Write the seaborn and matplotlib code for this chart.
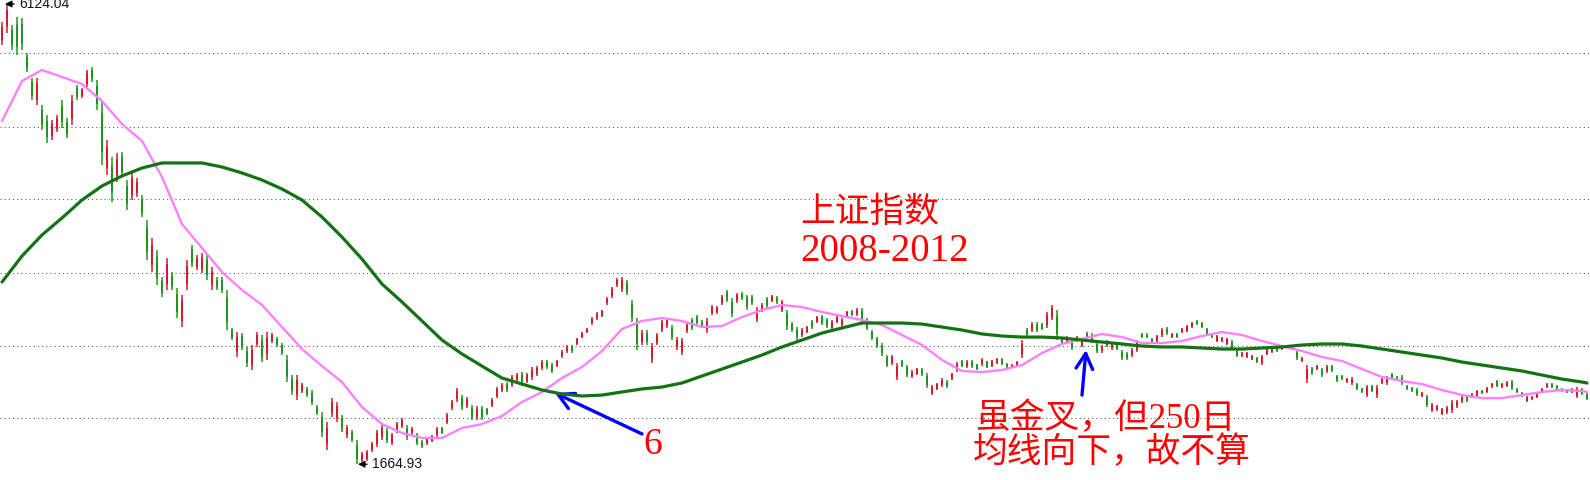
import numpy as np
import pandas as pd
import matplotlib
matplotlib.use("Agg")
import matplotlib.pyplot as plt
import seaborn as sns

# ---------------- data ----------------
high = [
    5950, 6124, 5921, 5998, 5989, 5649, 5407, 5407, 5146, 5049,
    5000, 5049, 5194, 5020, 5242, 5339, 5310, 5485, 5514, 5388,
    5194, 4806, 4642, 4680, 4690, 4419, 4487, 4438, 4273, 4031,
    3857, 3740, 3479, 3663, 3527, 3372, 3304, 3644, 3789, 3692,
    3711, 3692, 3576, 3479, 3479, 3353, 2985, 2946, 2936, 2801,
    2820, 2946, 2917, 2946, 2936, 2897, 2839, 2723, 2529, 2529,
    2452, 2413, 2384, 2239, 2171, 2074, 2306, 2268, 2142, 2045,
    1996, 1899, 1783, 1802, 1880, 1996, 2045, 2016, 1967, 2074,
    2113, 2045, 2025, 1967, 1899, 1928, 1948, 2025, 2025, 2161,
    2287, 2403, 2335, 2316, 2239, 2229, 2229, 2210, 2306, 2413,
    2452, 2461, 2529, 2549, 2558, 2549, 2607, 2616, 2675, 2675,
    2646, 2675, 2771, 2820, 2820, 2888, 2946, 2985, 3091, 3140,
    3159, 3285, 3382, 3469, 3479, 3450, 3256, 3082, 2965, 2965,
    2839, 2936, 3062, 3082, 3014, 2897, 2888, 3033, 3082, 3111,
    3062, 3082, 3208, 3198, 3304, 3353, 3275, 3324, 3334, 3304,
    3304, 3188, 3227, 3285, 3304, 3295, 3256, 3159, 3043, 2994,
    2985, 3004, 3062, 3101, 3111, 3082, 3062, 3101, 3082, 3149,
    3159, 3179, 3179, 3082, 2965, 2897, 2839, 2723, 2723, 2646,
    2675, 2626, 2578, 2597, 2597, 2549, 2432, 2452, 2500, 2481,
    2549, 2655, 2675, 2675, 2675, 2636, 2694, 2665, 2675, 2694,
    2694, 2646, 2636, 2665, 2868, 2985, 3043, 3043, 3033, 3140,
    3208, 3159, 2897, 2907, 2868, 2907, 2868, 2946, 2936, 2849,
    2820, 2868, 2849, 2839, 2771, 2752, 2791, 2868, 2936, 2936,
    2888, 2917, 2985, 2994, 2936, 2936, 2985, 3014, 3043, 3062,
    3043, 2985, 2936, 2917, 2897, 2888, 2868, 2771, 2752, 2752,
    2723, 2704, 2723, 2791, 2791, 2801, 2810, 2820, 2820, 2771,
    2704, 2626, 2607, 2626, 2597, 2626, 2626, 2529, 2529, 2500,
    2510, 2452, 2403, 2432, 2432, 2432, 2500, 2520, 2549, 2520,
    2529, 2432, 2413, 2403, 2365, 2335, 2258, 2239, 2210, 2229,
    2287, 2287, 2335, 2335, 2355, 2384, 2384, 2413, 2452, 2481,
    2452, 2471, 2481, 2403, 2365, 2326, 2326, 2365, 2403, 2452,
    2452, 2432, 2403, 2384, 2403, 2413, 2403, 2355,
]
low = [
    5727, 5843, 5679, 5630, 5679, 5465, 5194, 5146, 4903, 4777,
    4806, 4884, 4923, 4826, 4952, 5194, 5213, 5320, 5368, 5097,
    4564, 4467, 4206, 4399, 4448, 4128, 4225, 4254, 4060, 3644,
    3527, 3401, 3285, 3353, 3353, 3082, 2994, 3353, 3576, 3547,
    3518, 3450, 3353, 3353, 3324, 2965, 2868, 2704, 2771, 2607,
    2578, 2801, 2655, 2675, 2839, 2801, 2723, 2461, 2335, 2287,
    2355, 2316, 2239, 2142, 1928, 1802, 2122, 2074, 1977, 1919,
    1880, 1665, 1686, 1696, 1783, 1832, 1899, 1870, 1851, 1967,
    2016, 1899, 1948, 1851, 1822, 1851, 1880, 1928, 1958, 2054,
    2190, 2268, 2190, 2210, 2093, 2093, 2093, 2142, 2219, 2306,
    2365, 2365, 2413, 2461, 2423, 2452, 2481, 2520, 2578, 2587,
    2549, 2607, 2694, 2742, 2742, 2820, 2888, 2936, 3014, 3062,
    3091, 3208, 3275, 3382, 3334, 3304, 3043, 2771, 2820, 2820,
    2646, 2820, 2946, 2985, 2868, 2771, 2723, 2936, 2965, 3014,
    2985, 2936, 3111, 3120, 3208, 3237, 3091, 3227, 3256, 3159,
    3208, 3043, 3140, 3179, 3237, 3217, 3140, 2965, 2946, 2868,
    2897, 2936, 2975, 3033, 3014, 2985, 2965, 3033, 2994, 3091,
    3101, 3101, 3043, 2965, 2868, 2791, 2713, 2607, 2626, 2481,
    2607, 2510, 2500, 2529, 2520, 2403, 2335, 2384, 2413, 2403,
    2481, 2558, 2607, 2597, 2597, 2578, 2616, 2597, 2607, 2636,
    2626, 2578, 2597, 2607, 2694, 2897, 2946, 2946, 2965, 2985,
    3062, 2868, 2830, 2839, 2771, 2849, 2801, 2888, 2839, 2742,
    2742, 2801, 2771, 2771, 2675, 2675, 2704, 2752, 2888, 2888,
    2839, 2849, 2897, 2917, 2888, 2888, 2936, 2946, 2985, 3014,
    2985, 2917, 2888, 2849, 2849, 2820, 2771, 2704, 2704, 2694,
    2675, 2646, 2626, 2723, 2742, 2752, 2771, 2791, 2771, 2675,
    2655, 2452, 2529, 2578, 2510, 2549, 2558, 2461, 2481, 2452,
    2432, 2384, 2355, 2316, 2365, 2306, 2442, 2432, 2481, 2481,
    2432, 2384, 2365, 2326, 2316, 2219, 2171, 2180, 2142, 2151,
    2161, 2210, 2258, 2268, 2306, 2316, 2345, 2355, 2403, 2413,
    2403, 2413, 2384, 2355, 2316, 2268, 2287, 2306, 2355, 2403,
    2403, 2384, 2365, 2355, 2355, 2306, 2335, 2287,
]
open_ = [
    5775, 5901, 5872, 5921, 5930, 5611, 5368, 5194, 5097, 4991,
    4845, 4913, 5136, 4981, 5010, 5310, 5233, 5349, 5485, 5330,
    5068, 4535, 4554, 4458, 4642, 4361, 4273, 4293, 4235, 3954,
    3595, 3673, 3440, 3411, 3489, 3314, 3053, 3411, 3750, 3576,
    3556, 3644, 3401, 3450, 3450, 3275, 2965, 2752, 2907, 2762,
    2626, 2830, 2868, 2733, 2859, 2878, 2820, 2675, 2490, 2335,
    2374, 2394, 2355, 2219, 2122, 1861, 2161, 2113, 2113, 1948,
    1977, 1851, 1706, 1715, 1802, 1861, 1928, 1987, 1870, 1987,
    2035, 2016, 1967, 1948, 1880, 1870, 1890, 1948, 2016, 2074,
    2210, 2297, 2306, 2229, 2210, 2122, 2200, 2200, 2239, 2326,
    2384, 2442, 2432, 2481, 2529, 2471, 2510, 2539, 2597, 2655,
    2626, 2616, 2713, 2762, 2801, 2830, 2897, 2946, 3033, 3082,
    3101, 3227, 3295, 3401, 3363, 3421, 3217, 3023, 2849, 2936,
    2684, 2839, 2965, 3004, 2985, 2801, 2752, 2956, 3062, 3091,
    3043, 2965, 3130, 3140, 3227, 3334, 3237, 3246, 3314, 3275,
    3285, 3072, 3159, 3266, 3246, 3275, 3159, 3120, 3023, 2965,
    2917, 2946, 3043, 3043, 3091, 3062, 2985, 3043, 3014, 3101,
    3149, 3120, 3149, 3062, 2946, 2878, 2810, 2704, 2646, 2510,
    2665, 2607, 2520, 2539, 2578, 2520, 2355, 2394, 2432, 2461,
    2490, 2578, 2665, 2616, 2655, 2626, 2636, 2655, 2616, 2646,
    2684, 2636, 2607, 2616, 2733, 2965, 2965, 3023, 3023, 3014,
    3091, 3101, 2888, 2849, 2849, 2859, 2810, 2936, 2917, 2830,
    2762, 2859, 2791, 2830, 2752, 2733, 2723, 2771, 2927, 2917,
    2878, 2859, 2917, 2975, 2897, 2927, 2946, 2956, 2994, 3053,
    3033, 2975, 2927, 2859, 2859, 2830, 2849, 2762, 2713, 2704,
    2684, 2694, 2646, 2733, 2752, 2791, 2781, 2815, 2810, 2752,
    2665, 2490, 2587, 2587, 2578, 2568, 2616, 2520, 2520, 2461,
    2452, 2442, 2394, 2335, 2423, 2335, 2452, 2452, 2539, 2510,
    2510, 2423, 2403, 2384, 2326, 2316, 2190, 2190, 2151, 2171,
    2190, 2229, 2277, 2326, 2316, 2326, 2374, 2365, 2413, 2471,
    2413, 2423, 2461, 2394, 2355, 2277, 2297, 2316, 2365, 2413,
    2442, 2423, 2394, 2365, 2365, 2326, 2394, 2345,
]
close = [
    5901, 6066, 5727, 5708, 5737, 5504, 5233, 5359, 4952, 4835,
    4961, 5020, 4981, 4865, 5184, 5223, 5291, 5456, 5397, 5155,
    4690, 4739, 4293, 4622, 4496, 4186, 4438, 4399, 4099, 3721,
    3789, 3469, 3324, 3605, 3392, 3140, 3246, 3585, 3615, 3663,
    3673, 3498, 3527, 3382, 3353, 3043, 2888, 2897, 2801, 2646,
    2771, 2917, 2704, 2888, 2917, 2820, 2742, 2510, 2374, 2481,
    2432, 2335, 2268, 2161, 1977, 2016, 2268, 2229, 2006, 2016,
    1899, 1715, 1764, 1783, 1861, 1967, 2016, 1899, 1948, 2054,
    2093, 1928, 2006, 1870, 1841, 1909, 1938, 2006, 1967, 2142,
    2268, 2374, 2219, 2297, 2122, 2200, 2122, 2151, 2287, 2394,
    2432, 2384, 2510, 2529, 2452, 2529, 2578, 2597, 2655, 2607,
    2568, 2665, 2752, 2801, 2762, 2878, 2936, 2975, 3072, 3120,
    3149, 3266, 3363, 3450, 3450, 3334, 3082, 2830, 2936, 2849,
    2801, 2917, 3043, 3062, 2897, 2868, 2859, 3014, 2985, 3033,
    3004, 3053, 3188, 3179, 3285, 3256, 3130, 3304, 3275, 3188,
    3227, 3159, 3208, 3198, 3295, 3237, 3237, 3004, 2965, 2897,
    2965, 2994, 2994, 3091, 3033, 3004, 3043, 3091, 3062, 3140,
    3111, 3159, 3072, 2985, 2888, 2810, 2742, 2626, 2704, 2616,
    2616, 2529, 2558, 2587, 2539, 2432, 2413, 2442, 2481, 2423,
    2539, 2636, 2616, 2655, 2616, 2587, 2675, 2607, 2665, 2684,
    2636, 2587, 2626, 2655, 2830, 2917, 3023, 2965, 2975, 3111,
    3179, 2927, 2839, 2897, 2791, 2897, 2859, 2897, 2859, 2762,
    2801, 2810, 2830, 2781, 2694, 2694, 2771, 2849, 2897, 2897,
    2849, 2907, 2965, 2936, 2927, 2897, 2975, 3004, 3033, 3023,
    2994, 2927, 2897, 2907, 2888, 2878, 2791, 2713, 2742, 2742,
    2713, 2655, 2704, 2781, 2781, 2762, 2801, 2801, 2781, 2694,
    2694, 2587, 2549, 2616, 2529, 2607, 2568, 2471, 2490, 2490,
    2490, 2394, 2365, 2413, 2374, 2403, 2490, 2500, 2490, 2490,
    2452, 2394, 2374, 2345, 2355, 2239, 2239, 2229, 2200, 2210,
    2258, 2268, 2316, 2277, 2345, 2374, 2355, 2403, 2442, 2423,
    2442, 2461, 2403, 2365, 2326, 2316, 2316, 2355, 2394, 2442,
    2413, 2394, 2374, 2374, 2394, 2394, 2345, 2297,
]

# moving averages sampled every 4th bar (plus the last bar)
ma_days = list(range(0, 317, 4)) + [317]
ma_short = [
    4991, 5378, 5485, 5417, 5349, 5184, 4961, 4797, 4448, 3992,
    3760, 3527, 3353, 3208, 2994, 2781, 2616, 2461, 2219, 2054,
    1967, 1919, 1919, 2016, 2054, 2132, 2268, 2365, 2500, 2607,
    2762, 2975, 3053, 3082, 3053, 2994, 3004, 3091, 3159, 3208,
    3188, 3140, 3101, 3062, 3014, 2917, 2820, 2675, 2568, 2558,
    2578, 2626, 2742, 2830, 2878, 2927, 2897, 2839, 2839, 2859,
    2907, 2946, 2917, 2859, 2810, 2762, 2704, 2665, 2587, 2510,
    2471, 2442, 2384, 2335, 2306, 2306, 2335, 2365, 2384, 2374,
    2365,
]
ma_250 = [
    3430, 3682, 3886, 4051, 4225, 4361, 4458, 4535, 4584, 4584,
    4584, 4545, 4487, 4419, 4332, 4225, 4060, 3866, 3653, 3411,
    3237, 3053, 2868, 2733, 2616, 2500, 2442, 2384, 2345, 2326,
    2335, 2365, 2394, 2413, 2452, 2520, 2587, 2655, 2723, 2801,
    2868, 2936, 2985, 3033, 3033, 3033, 3023, 2994, 2965, 2927,
    2907, 2897, 2897, 2888, 2868, 2849, 2830, 2810, 2801, 2801,
    2791, 2781, 2781, 2791, 2801, 2820, 2830, 2830, 2810, 2781,
    2752, 2723, 2694, 2655, 2626, 2597, 2568, 2529, 2490, 2461,
    2452,
]
grid_levels = [5647, 4935, 4232, 3521, 2813, 2110]

# ---------------- styling ----------------
sns.set_style("white")
plt.rcParams["font.family"] = ["Liberation Serif", "Noto Sans CJK SC", "DejaVu Sans"]

RED = "#d01c2c"
GREEN = "#1f951f"
PINK = "#ff80ff"
DKGREEN = "#137313"

fig = plt.figure(figsize=(15.9, 4.8), dpi=100)
ax = fig.add_axes([0, 0, 1, 1])

for lvl in grid_levels:
    ax.axhline(lvl, color="#555555", lw=0.75, ls=(0, (1, 3)), zorder=1)

bars = pd.DataFrame({"day": np.arange(len(close)), "open": open_, "high": high,
                     "low": low, "close": close})
up = bars["close"] >= bars["open"]
colors = np.where(up, RED, GREEN)
ax.vlines(bars["day"], bars["low"], bars["high"], colors=colors, lw=1.1, zorder=2)
body_lo = np.minimum(bars["open"], bars["close"])
body_h = np.maximum(np.abs(bars["close"] - bars["open"]), 8)
ax.bar(bars["day"], body_h, bottom=body_lo, width=0.48, color=colors, linewidth=0, zorder=3)

ma = pd.DataFrame({"day": ma_days, "short": ma_short, "long": ma_250})
sns.lineplot(data=ma, x="day", y="short", ax=ax, color=PINK, lw=1.7, zorder=4)
sns.lineplot(data=ma, x="day", y="long", ax=ax, color=DKGREEN, lw=2.3, zorder=5)
ax.set_xlim(-0.4, 317.6)
ax.set_ylim(1512, 6163)
ax.set_axis_off()

# extreme price labels
lab_font = dict(family=["Liberation Sans", "DejaVu Sans"], fontsize=10, color="#111122")
arrow_lab = dict(arrowstyle="-|>,head_length=0.4,head_width=0.2",
                 color="black", lw=0.9, shrinkA=1, shrinkB=0)
ax.annotate("6124.04", xy=(0.6, 6124.04), xytext=(10, 0), textcoords="offset points",
            va="center", ha="left", arrowprops=arrow_lab, **lab_font)
ax.annotate("1664.93", xy=(71.2, 1664.93), xytext=(10, 0), textcoords="offset points",
            va="center", ha="left", arrowprops=arrow_lab, **lab_font)

# title
txt_font = ["Liberation Serif", "Noto Sans CJK SC"]
ax.text(800 / 1590, 1 - 197 / 480, "上证指数", transform=ax.transAxes, ha="left", va="top",
        color="red", fontsize=25, family=txt_font)
ax.text(800 / 1590, 1 - 233 / 480, "2008-2012", transform=ax.transAxes, ha="left", va="top",
        color="red", fontsize=28, family=txt_font)

# annotation 1
ax.annotate("", xy=(110.6, 2355), xytext=(128, 1958),
            arrowprops=dict(arrowstyle="->,head_length=0.55,head_width=0.3",
                            color="#0000ff", lw=2.4, mutation_scale=20,
                            shrinkA=0, shrinkB=0))
ax.text(643 / 1590, 1 - 427 / 480, "6", transform=ax.transAxes, ha="left", va="top",
        color="red", fontsize=27, family=txt_font)

# annotation 2
ax.annotate("", xy=(216.8, 2771), xytext=(216, 2335),
            arrowprops=dict(arrowstyle="->,head_length=0.55,head_width=0.3",
                            color="#0000ff", lw=2.4, mutation_scale=20,
                            shrinkA=0, shrinkB=0))
ax.text(975 / 1590, 1 - 403 / 480, "虽金叉，但250日", transform=ax.transAxes, ha="left",
        va="top", color="red", fontsize=25, family=txt_font)
ax.text(973 / 1590, 1 - 437 / 480, "均线向下，故不算", transform=ax.transAxes, ha="left",
        va="top", color="red", fontsize=25, family=txt_font)

fig.savefig("out.png", dpi=100, facecolor="white")
